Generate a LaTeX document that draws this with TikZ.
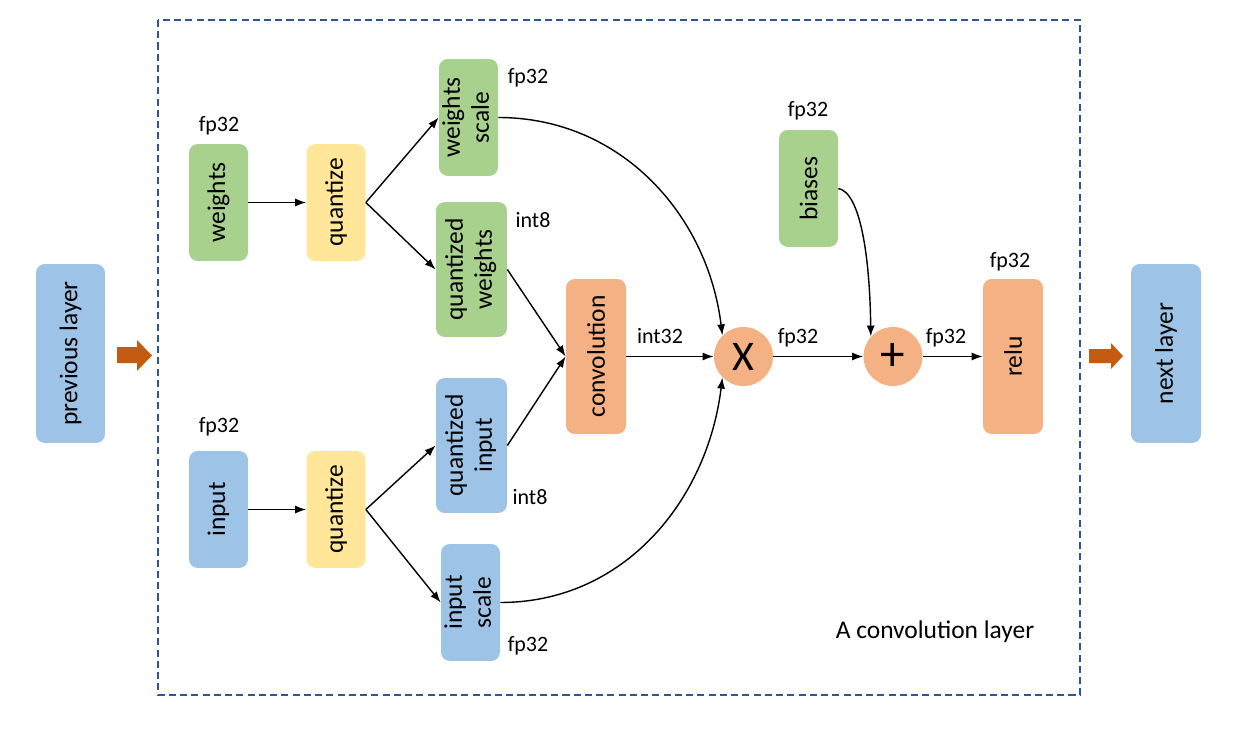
\documentclass[tikz,border=0pt]{standalone}
\usepackage{fontspec}
\setmainfont{Carlito}
\usetikzlibrary{arrows.meta}
\definecolor{boxgreen}{RGB}{169,209,142}
\definecolor{boxblue}{RGB}{157,195,230}
\definecolor{boxyellow}{RGB}{255,230,153}
\definecolor{boxorange}{RGB}{244,177,131}
\definecolor{arrowrust}{RGB}{197,90,17}
\definecolor{frameblue}{RGB}{47,85,151}
\newcommand{\uptext}[1]{\rotatebox{90}{#1}}
\newcommand{\uptwo}[2]{\rotatebox{90}{\begin{tabular}{@{}c@{}}#1\\#2\end{tabular}}}

\begin{document}
\begin{tikzpicture}[x=0.02cm, y=-0.02cm,
	blk/.style={fill=#1, rounded corners=5pt, inner sep=0pt, font=\fontsize{14.5}{16.5}\selectfont},
	small/.style={blk=#1, minimum width=1.18cm, minimum height=2.34cm},
	wide/.style={blk=#1, minimum width=1.42cm, minimum height=2.7cm},
	tall/.style={blk=#1, minimum width=1.2cm, minimum height=3.1cm},
	op/.style={circle, fill=boxorange, minimum size=1.18cm, inner sep=0pt, font=\fontsize{24}{26}\selectfont},
	lbl/.style={inner sep=0pt, font=\fontsize{12.5}{14}\selectfont},
	arr/.style={-{Latex[length=2.2mm,width=1.6mm]}, line width=0.8pt}]
	\useasboundingbox (0,0) rectangle (1243,733);

	% frame of the layer
	\draw[frameblue, line width=1.1pt, dash pattern=on 4pt off 2.4pt] (158,20) rectangle (1080,695);
	\node[lbl, font=\fontsize{14.5}{16}\selectfont] (title) at (935,632) {A convolution layer};

	% outside blocks
	\node[blk=boxblue, minimum width=1.38cm, minimum height=3.58cm] (prev) at (70.5,353.5) {\uptext{previous layer}};
	\node[blk=boxblue, minimum width=1.4cm, minimum height=3.58cm] (next) at (1166,353.5) {\uptext{next layer}};
	\fill[arrowrust] (117,347) -- (137,347) -- (137,340) -- (152,355.5) -- (137,371) -- (137,363) -- (117,363) -- cycle;
	\fill[arrowrust] (1089,349) -- (1111,349) -- (1111,343) -- (1123,356) -- (1111,369) -- (1111,363) -- (1089,363) -- cycle;

	% weights branch
	\node[small=boxgreen] (weights) at (218.5,202.5) {\uptext{weights}};
	\node[small=boxyellow] (quantw) at (336,202.5) {\uptext{quantize}};
	\node[small=boxgreen] (wscale) at (468.5,117.5) {\uptwo{weights}{scale}};
	\node[wide=boxgreen] (qweights) at (471.5,269.5) {\uptwo{quantized}{weights}};

	% input branch
	\node[small=boxblue] (input) at (218.5,509.5) {\uptext{input}};
	\node[small=boxyellow] (quanti) at (336,509.5) {\uptext{quantize}};
	\node[wide=boxblue] (qinput) at (471.5,445.5) {\uptwo{quantized}{input}};
	\node[small=boxblue] (iscale) at (470.5,602.5) {\uptwo{input}{scale}};

	% compute
	\node[tall=boxorange] (conv) at (596,356.5) {\uptext{convolution}};
	\node[op] (mult) at (743.5,356.5) {X};
	\node[op] (add) at (893,356.5) {\fontsize{28}{30}\selectfont +};
	\node[small=boxgreen] (biases) at (808.5,188.5) {\uptext{biases}};
	\node[tall=boxorange] (relu) at (1013,356.5) {\uptext{relu}};

	% type labels
	\node[lbl] (tw) at (219,126) {fp32};
	\node[lbl] (tws) at (528,78) {fp32};
	\node[lbl] (tqw) at (533,220) {int8};
	\node[lbl] (tb) at (808,111) {fp32};
	\node[lbl] (tc) at (660,336) {int32};
	\node[lbl] (tm) at (798,338) {fp32};
	\node[lbl] (ta) at (946,338) {fp32};
	\node[lbl] (tr) at (1010,262) {fp32};
	\node[lbl] (ti) at (219,427) {fp32};
	\node[lbl] (tqi) at (530,497) {int8};
	\node[lbl] (tis) at (528,646) {fp32};

	% connectors
	\draw[arr] (weights) -- (quantw);
	\draw[arr] (quantw.east) -- (wscale.west);
	\draw[arr] (quantw.east) -- (qweights.west);
	\draw[arr] (input) -- (quanti);
	\draw[arr] (quanti.east) -- (qinput.west);
	\draw[arr] (quanti.east) -- (iscale.west);
	\draw[arr] (qweights.east) -- (conv.west);
	\draw[arr] (qinput.east) -- (conv.west);
	\draw[arr] (conv) -- (mult);
	\draw[arr] (wscale.east) to[out=0, in=97] (mult.135);
	\draw[arr] (iscale.east) to[out=0, in=-97] (mult.225);
	\draw[arr] (mult) -- (add);
	\draw[arr] (biases.east) .. controls +(22,4) and +(-1,-80) .. (add.138);
	\draw[arr] (add) -- (relu);
\end{tikzpicture}
\end{document}
